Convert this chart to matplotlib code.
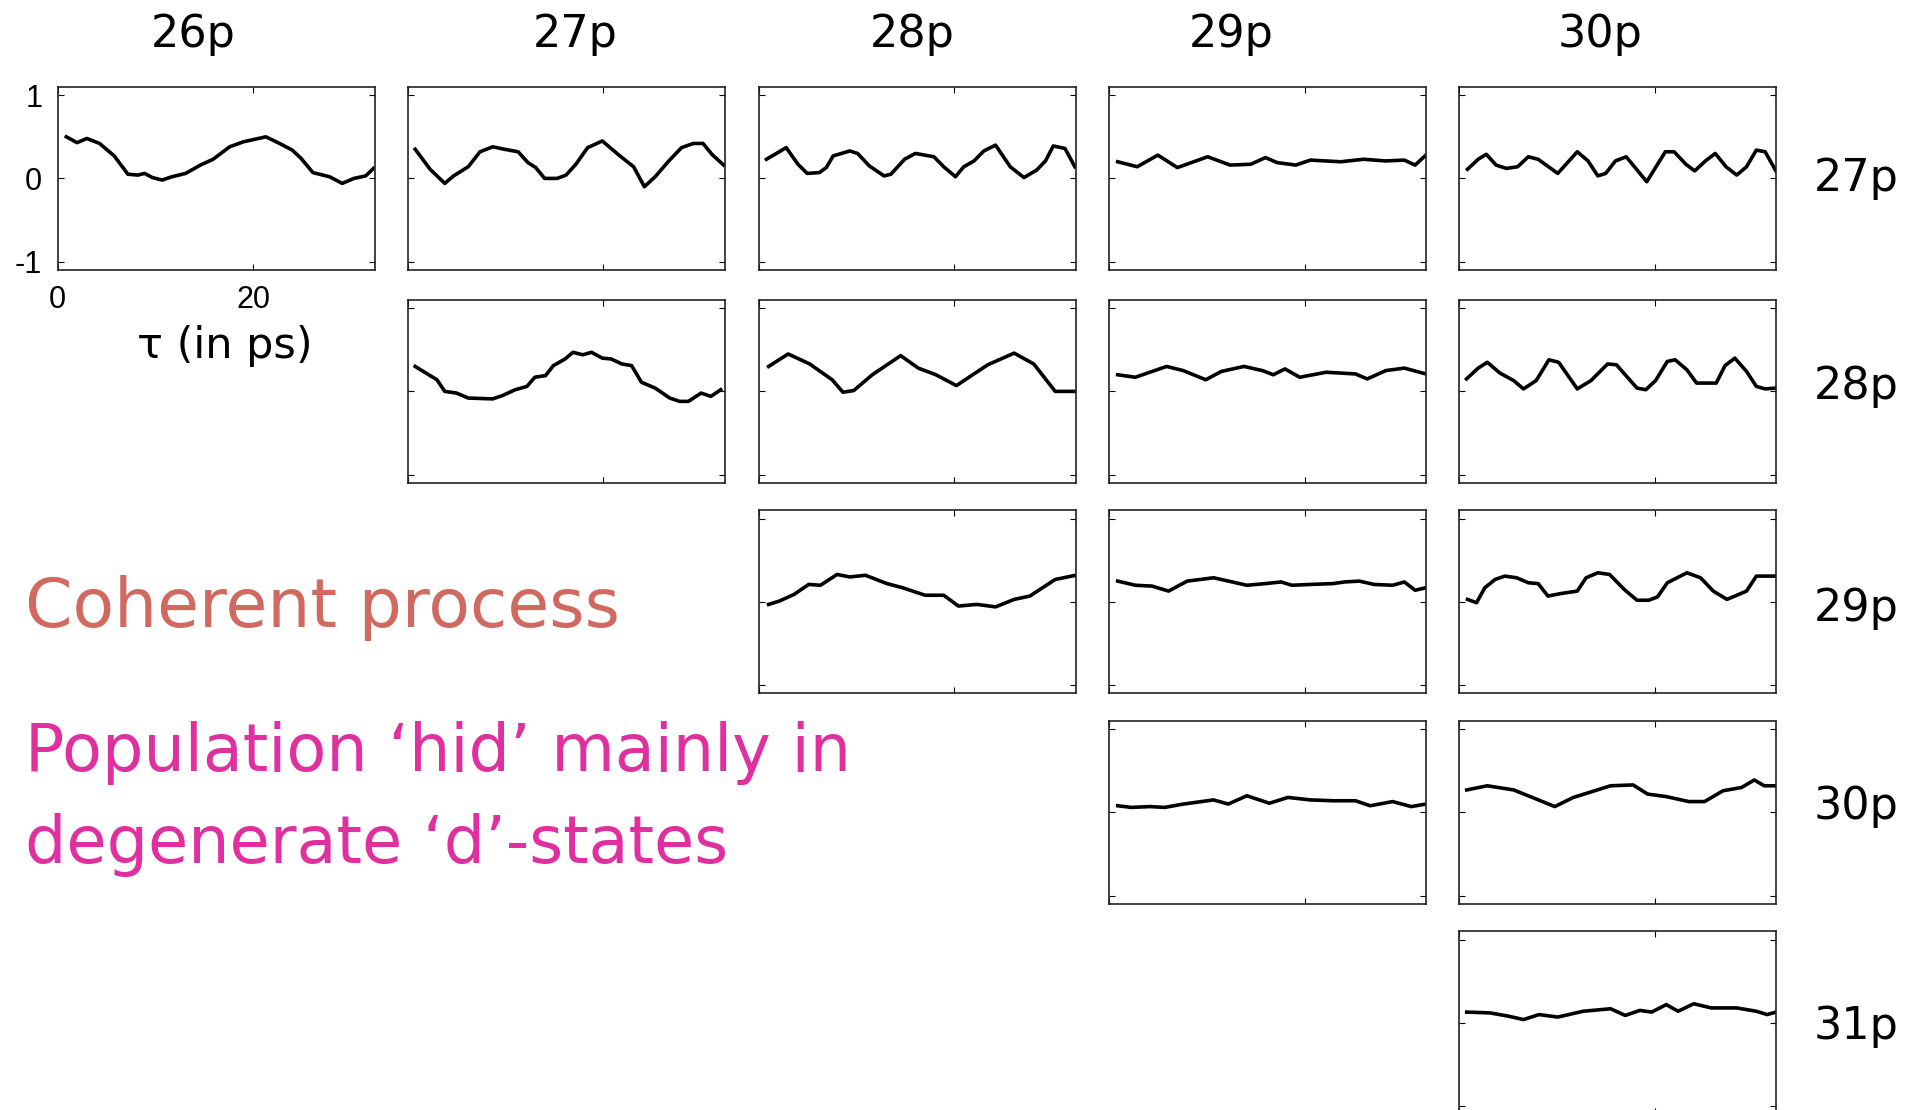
import matplotlib
matplotlib.use('Agg')
import matplotlib.pyplot as plt

# initial state (columns) / final state (rows)
col_labels = ['26p', '27p', '28p', '29p', '30p']
row_labels = ['27p', '28p', '29p', '30p', '31p']

# signal vs delay tau (ps), one pair of lists per panel: <initial>_<final>
tau_26_27 = [0.9, 2.0, 3.0, 4.3, 5.8, 7.2, 8.2, 8.9, 9.7, 10.7, 11.7, 13.1, 14.6, 15.9, 17.6, 19.0, 21.3, 22.7, 24.0, 24.9, 26.1, 27.8, 29.1, 30.3, 31.5, 32.3]
sig_26_27 = [0.50, 0.43, 0.48, 0.42, 0.27, 0.05, 0.04, 0.06, 0.01, -0.02, 0.02, 0.06, 0.16, 0.23, 0.38, 0.44, 0.50, 0.42, 0.34, 0.24, 0.07, 0.02, -0.06, 0.0, 0.03, 0.12]

tau_27_27 = [0.78, 2.3, 3.8, 4.7, 6.2, 7.4, 8.7, 9.9, 11.3, 12.3, 13.1, 14.0, 15.3, 16.2, 17.2, 18.4, 19.9, 21.6, 23.1, 24.2, 25.3, 26.7, 28.0, 29.2, 30.2, 31.1, 32.3]
sig_27_27 = [0.35, 0.11, -0.06, 0.03, 0.14, 0.32, 0.38, 0.35, 0.32, 0.19, 0.13, 0.0, 0.0, 0.04, 0.17, 0.37, 0.45, 0.28, 0.14, -0.10, 0.02, 0.21, 0.37, 0.42, 0.42, 0.29, 0.16]

tau_27_28 = [0.78, 2.3, 3.0, 3.8, 5.0, 6.2, 8.7, 9.7, 11.0, 12.2, 13.0, 14.1, 14.9, 16.1, 16.9, 17.9, 18.8, 19.9, 20.8, 21.9, 22.9, 23.9, 25.3, 26.8, 27.8, 28.7, 30.0, 31.0, 32.0]
sig_27_28 = [0.30, 0.19, 0.14, 0.0, -0.02, -0.08, -0.09, -0.05, 0.02, 0.06, 0.17, 0.19, 0.31, 0.39, 0.47, 0.44, 0.47, 0.40, 0.39, 0.33, 0.31, 0.11, 0.04, -0.08, -0.12, -0.12, -0.02, -0.06, 0.02]

tau_28_27 = [0.78, 1.8, 2.8, 4.0, 4.95, 6.2, 6.9, 7.6, 9.3, 10.1, 11.3, 12.8, 13.5, 14.9, 16.0, 17.9, 18.9, 20.1, 20.95, 22.0, 23.0, 24.2, 25.7, 27.1, 28.4, 29.3, 30.1, 31.3, 32.3]
sig_28_27 = [0.23, 0.30, 0.37, 0.17, 0.06, 0.07, 0.13, 0.27, 0.33, 0.30, 0.15, 0.03, 0.05, 0.23, 0.30, 0.26, 0.14, 0.02, 0.14, 0.21, 0.33, 0.40, 0.14, 0.01, 0.10, 0.21, 0.39, 0.36, 0.14]

tau_28_28 = [1.0, 3.0, 5.2, 7.5, 8.6, 9.7, 11.6, 14.5, 16.3, 18.1, 20.2, 23.4, 26.1, 28.1, 30.3, 32.4]
sig_28_28 = [0.30, 0.45, 0.33, 0.14, -0.01, 0.01, 0.20, 0.43, 0.28, 0.20, 0.07, 0.32, 0.46, 0.33, 0.0, 0.0]

tau_28_29 = [1.0, 2.1, 3.6, 5.1, 6.3, 8.0, 9.3, 10.9, 13.1, 14.7, 17.0, 18.9, 20.4, 22.3, 24.2, 26.1, 27.7, 30.3, 32.4]
sig_28_29 = [-0.03, 0.01, 0.09, 0.21, 0.20, 0.33, 0.30, 0.32, 0.22, 0.17, 0.08, 0.08, -0.05, -0.03, -0.06, 0.03, 0.07, 0.27, 0.32]

tau_29_27 = [0.9, 2.9, 5.0, 7.0, 10.1, 12.4, 14.5, 16.0, 17.2, 19.1, 20.6, 23.7, 26.0, 28.3, 30.2, 31.3, 32.4]
sig_29_27 = [0.20, 0.14, 0.28, 0.13, 0.26, 0.16, 0.17, 0.25, 0.19, 0.16, 0.22, 0.20, 0.23, 0.21, 0.22, 0.16, 0.28]

tau_29_28 = [0.9, 2.7, 5.9, 7.6, 9.9, 11.5, 13.8, 15.7, 16.8, 18.0, 19.5, 22.2, 25.2, 26.4, 28.3, 30.2, 32.4]
sig_29_28 = [0.20, 0.17, 0.30, 0.25, 0.14, 0.24, 0.30, 0.25, 0.20, 0.27, 0.17, 0.23, 0.21, 0.15, 0.25, 0.28, 0.21]

tau_29_29 = [0.9, 2.7, 4.4, 6.1, 8.0, 10.7, 12.6, 14.1, 16.0, 17.6, 18.7, 20.6, 22.9, 24.1, 25.6, 27.1, 29.0, 30.2, 31.3, 32.4]
sig_29_29 = [0.25, 0.20, 0.19, 0.13, 0.25, 0.29, 0.24, 0.20, 0.22, 0.24, 0.20, 0.21, 0.22, 0.24, 0.25, 0.21, 0.20, 0.24, 0.14, 0.17]

tau_29_30 = [0.9, 2.3, 4.2, 5.7, 7.6, 10.7, 12.2, 14.1, 16.4, 18.3, 20.6, 22.9, 25.2, 26.7, 29.0, 30.9, 32.4]
sig_29_30 = [0.08, 0.06, 0.07, 0.06, 0.10, 0.15, 0.10, 0.20, 0.11, 0.18, 0.15, 0.14, 0.14, 0.08, 0.13, 0.07, 0.10]

tau_30_27 = [0.88, 1.97, 2.8, 3.8, 4.85, 6.0, 7.1, 8.1, 10.1, 12.1, 13.2, 14.2, 15.0, 16.0, 17.1, 19.2, 21.1, 22.0, 23.2, 24.1, 25.2, 26.2, 27.3, 28.4, 29.4, 30.4, 31.3, 32.4]
sig_30_27 = [0.11, 0.23, 0.29, 0.16, 0.12, 0.14, 0.26, 0.23, 0.06, 0.32, 0.21, 0.03, 0.06, 0.21, 0.26, -0.04, 0.32, 0.32, 0.17, 0.09, 0.21, 0.30, 0.14, 0.04, 0.14, 0.34, 0.32, 0.09]

tau_30_28 = [0.78, 1.97, 2.9, 4.2, 5.6, 6.6, 7.9, 9.2, 10.2, 12.1, 13.5, 15.2, 16.1, 18.2, 19.1, 20.1, 21.3, 22.1, 23.3, 24.3, 26.3, 27.2, 28.2, 29.4, 30.4, 31.3, 32.4]
sig_30_28 = [0.15, 0.28, 0.35, 0.22, 0.13, 0.03, 0.13, 0.38, 0.35, 0.03, 0.13, 0.33, 0.32, 0.04, 0.02, 0.13, 0.36, 0.38, 0.26, 0.10, 0.10, 0.31, 0.40, 0.24, 0.06, 0.03, 0.04]

tau_30_29 = [0.88, 1.8, 2.65, 3.7, 4.7, 5.9, 7.1, 8.1, 9.1, 10.4, 12.1, 13.0, 14.2, 15.4, 16.9, 18.2, 19.4, 20.3, 21.3, 23.3, 24.7, 26.0, 27.4, 29.4, 30.4, 32.4]
sig_30_29 = [0.03, -0.01, 0.17, 0.27, 0.31, 0.29, 0.23, 0.22, 0.07, 0.10, 0.13, 0.29, 0.35, 0.33, 0.15, 0.02, 0.02, 0.06, 0.23, 0.35, 0.29, 0.13, 0.03, 0.13, 0.31, 0.31]

tau_30_30 = [0.8, 2.9, 5.6, 7.5, 9.8, 11.7, 13.6, 15.5, 17.8, 19.3, 21.2, 23.5, 25.1, 27.0, 28.9, 30.2, 31.2, 32.4]
sig_30_30 = [0.27, 0.32, 0.27, 0.18, 0.07, 0.18, 0.25, 0.32, 0.33, 0.22, 0.19, 0.13, 0.13, 0.26, 0.30, 0.39, 0.32, 0.32]

tau_30_31 = [0.8, 3.2, 5.1, 6.6, 8.2, 10.1, 12.7, 15.5, 17.0, 18.5, 19.7, 21.2, 22.4, 24.0, 25.8, 28.4, 30.4, 31.5, 32.4]
sig_30_31 = [0.13, 0.12, 0.08, 0.04, 0.10, 0.07, 0.14, 0.17, 0.09, 0.15, 0.13, 0.22, 0.14, 0.23, 0.18, 0.18, 0.14, 0.10, 0.13]

# (row, col) -> data
panels = {
    (0, 0): (tau_26_27, sig_26_27),
    (0, 1): (tau_27_27, sig_27_27),
    (1, 1): (tau_27_28, sig_27_28),
    (0, 2): (tau_28_27, sig_28_27),
    (1, 2): (tau_28_28, sig_28_28),
    (2, 2): (tau_28_29, sig_28_29),
    (0, 3): (tau_29_27, sig_29_27),
    (1, 3): (tau_29_28, sig_29_28),
    (2, 3): (tau_29_29, sig_29_29),
    (3, 3): (tau_29_30, sig_29_30),
    (0, 4): (tau_30_27, sig_30_27),
    (1, 4): (tau_30_28, sig_30_28),
    (2, 4): (tau_30_29, sig_30_29),
    (3, 4): (tau_30_30, sig_30_30),
    (4, 4): (tau_30_31, sig_30_31),
}

W, H = 1919, 1110
fig = plt.figure(figsize=(W / 100, H / 100), dpi=100)

# panel boxes in pixels
col_x = [57.5, 407.6, 758.8, 1108.9, 1458.9]
row_top = [86.9, 299.9, 510.4, 720.9, 931.4]
pw, ph = 317, 183

for (r, c), (t, s) in panels.items():
    ax = fig.add_axes([col_x[c] / W, 1 - (row_top[r] + ph) / H, pw / W, ph / H])
    ax.plot(t, s, color='black', lw=2.6)
    ax.set_xlim(0, 32.4)
    ax.set_ylim(-1.1, 1.1)
    ax.set_xticks([0, 20])
    ax.set_yticks([-1, 0, 1])
    ax.set_yticklabels(['-1', '0', '1'])
    ax.tick_params(direction='in', top=True, right=True, length=4, width=0.8,
                   labelsize=22, pad=11)
    for sp in ax.spines.values():
        sp.set_linewidth(1.2)
        sp.set_color('#222222')
    for lab in ax.get_xticklabels() + ax.get_yticklabels():
        lab.set_fontname('Liberation Sans')
    if (r, c) != (0, 0):
        ax.tick_params(labelleft=False, labelbottom=False)

# column / row headings
col_pos = [193, 575, 912, 1231, 1600]
for lab, x in zip(col_labels, col_pos):
    fig.text(x / W, 1 - 34 / H, lab, fontsize=32, ha='center', va='center')
row_pos = [179, 387, 608, 807, 1026]
for lab, y in zip(row_labels, row_pos):
    fig.text(1856 / W, 1 - y / H, lab, fontsize=32, ha='center', va='center')

fig.text(225 / W, 1 - 346 / H, 'τ (in ps)', fontsize=31, ha='center', va='center')

fig.text(25 / W, 1 - 608 / H, 'Coherent process', fontsize=49,
         color='#D06A60', ha='left', va='center')
fig.text(25 / W, 1 - 753 / H, 'Population ‘hid’ mainly in', fontsize=47,
         color='#E030A0', ha='left', va='center')
fig.text(25 / W, 1 - 845 / H, 'degenerate ‘d’-states', fontsize=47,
         color='#E030A0', ha='left', va='center')

fig.savefig('out.png', dpi=100)
